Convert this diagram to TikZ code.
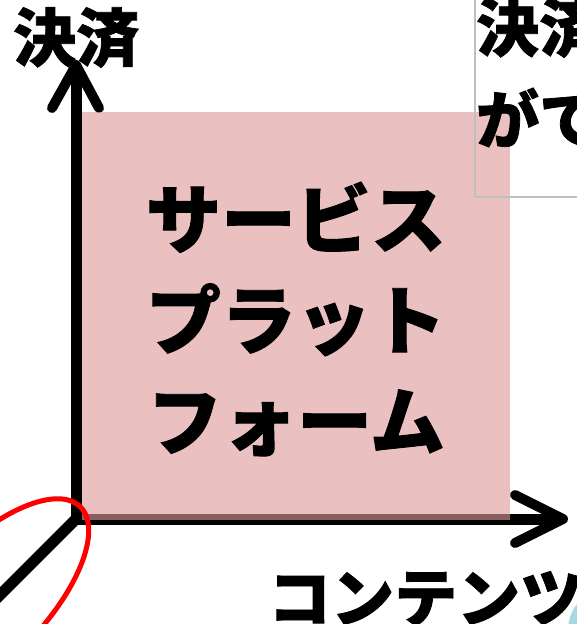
\documentclass[tikz,border=0pt]{standalone}
\usepackage{fontspec}
\newfontfamily\jp{Noto Sans CJK JP}[BoldFeatures={FakeBold=1.2}]
\definecolor{pinkfill}{RGB}{222,153,153}
\definecolor{boxgray}{RGB}{192,192,192}
\definecolor{lightblue}{RGB}{169,216,226}
\tikzset{
  axis/.style={line width=11pt, black},
  arrowhead/.style={line width=10pt, black, line cap=round, line join=round},
  bigtext/.style={font=\jp\bfseries\fontsize{63}{92}\selectfont, inner sep=0pt},
  centertext/.style={font=\jp\bfseries\fontsize{75}{101}\selectfont, align=center, inner sep=0pt},
}
\begin{document}
\begin{tikzpicture}[x=1pt,y=-1pt]
\useasboundingbox (0,0) rectangle (577,624);
\clip (0,0) rectangle (577,624);
% axes
\coordinate (O) at (76,519);
\coordinate (ytip) at (76,65);
\coordinate (xtip) at (563,519);
\coordinate (dend) at (-20,615);
\coordinate (yl) at (52,108);
\coordinate (yr) at (99,108);
\coordinate (xu) at (515,495);
\coordinate (xd) at (515,543);
\draw[axis] (O) -- (76,70);
\draw[axis] (O) -- (560,519);
\draw[axis] (O) -- (dend);
\draw[arrowhead] (yl) -- (ytip) -- (yr);
\draw[arrowhead] (xu) -- (xtip) -- (xd);
% pink platform
\fill[pinkfill, fill opacity=0.62] (82,112) rectangle (510,520);
\node[centertext] (svc) at (296,319) {サービス\\プラット\\フォーム};
% labels
\node[bigtext, anchor=north west] (ylab) at (13,7) {決済};
\node[bigtext, anchor=north west] (xlab) at (268,571) {コンテンツ};
% right box
\draw[boxgray, line width=1.5pt] (475,-10) rectangle (600,197);
\node[bigtext, anchor=north west, align=left] (boxtxt) at (476,-3) {決済\\がで};
% red ellipse
\draw[red, line width=5pt, shift={(-13,603)}, rotate=46] (0,0) ellipse (134 and 57);
% blue shape
\fill[lightblue] (610,630) circle (42);
\end{tikzpicture}
\end{document}
